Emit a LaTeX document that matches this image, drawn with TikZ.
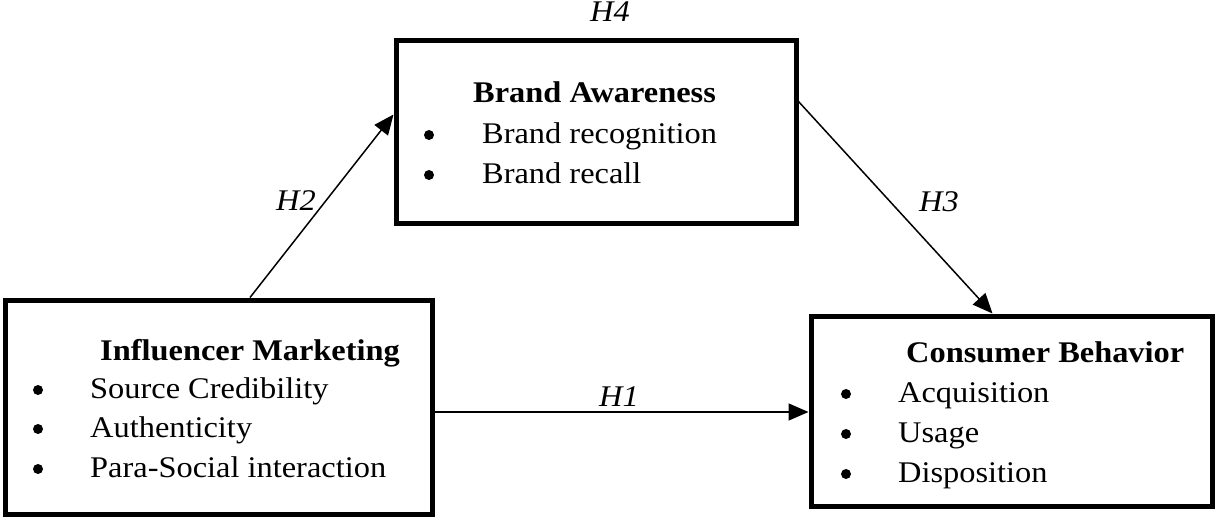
\documentclass[tikz,border=0pt]{standalone}
\usepackage{fontspec}
\setmainfont{Liberation Serif}[FakeStretch=1.08]
\usetikzlibrary{arrows.meta}

\begin{document}
\begin{tikzpicture}[x=1pt,y=-1pt,
    box/.style={draw,rectangle,line width=5pt,inner sep=0pt},
    txt/.style={anchor=base west,inner sep=0pt,font=\fontsize{30}{36}\selectfont},
    hdr/.style={anchor=base west,inner sep=0pt,font=\fontsize{30}{36}\selectfont\bfseries},
    blt/.style={circle,fill,inner sep=0pt,minimum size=10pt},
    hyp/.style={anchor=base,inner sep=0pt,font=\fontsize{30}{36}\selectfont\itshape},
    link/.style={line width=1.5pt,-{Triangle[length=20pt,width=17pt]}}]
      \useasboundingbox (0,0) rectangle (1217,527);
      \node[box,minimum width=427pt,minimum height=214pt] (im) at (218.5,407) {};
      \node[box,minimum width=400pt,minimum height=182pt] (ba) at (596,132) {};
      \node[box,minimum width=401pt,minimum height=190pt] (cb) at (1011.5,411) {};
      \node[hdr] (imt) at (100,360) {Influencer Marketing};
      \foreach \y/\t [count=\i] in {398/Source Credibility, 437/Authenticity, 477/Para-Social interaction} {
          \node[blt] (imb\i) at (38,\y-8) {};
          \node[txt] (imi\i) at (90,\y) {\t};
      }
      \node[hdr] (bat) at (473,102) {Brand Awareness};
      \foreach \y/\t [count=\i] in {143/Brand recognition, 183/Brand recall} {
          \node[blt] (bab\i) at (429,\y-8) {};
          \node[txt] (bai\i) at (482,\y) {\t};
      }
      \node[hdr] (cbt) at (906,362) {Consumer Behavior};
      \foreach \y/\t [count=\i] in {402/Acquisition, 442/Usage, 482/Disposition} {
          \node[blt] (cbb\i) at (846,\y-8) {};
          \node[txt] (cbi\i) at (898,\y) {\t};
      }
      \draw[link] ([xshift=247.5pt]im.north west) -- ([yshift=-76pt]ba.north west);
      \draw[link] ([yshift=-63pt]ba.north east) -- ([xshift=184pt]cb.north west);
      \draw[link] ([yshift=-5pt]im.east) -- ([yshift=-1pt]cb.west);
      \node[hyp] (h1) at (619,406) {H1};
      \node[hyp] (h2) at (296,210) {H2};
      \node[hyp] (h3) at (939,211) {H3};
      \node[hyp] (h4) at (610,22) {H4};
\end{tikzpicture}
\end{document}
